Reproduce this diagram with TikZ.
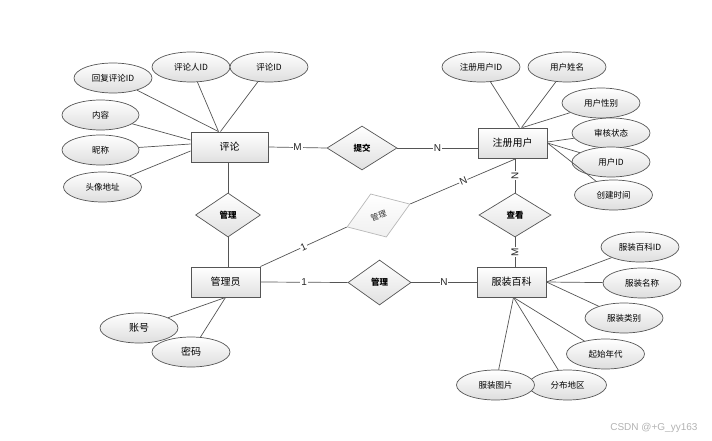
\documentclass[tikz,border=0pt]{standalone}
\usepackage{fontspec}
\setmainfont{Liberation Sans}
\newfontfamily\cjk{Noto Sans CJK SC}
\usetikzlibrary{shapes.geometric,calc}
\definecolor{edgec}{HTML}{555555}
\tikzset{
  entity/.style={draw=edgec, line width=0.9pt, rectangle, top color=white, bottom color=black!12,
     minimum height=30pt, minimum width=69pt, inner sep=0pt, font=\cjk\fontsize{10}{12}\selectfont},
  attr/.style={draw=edgec, line width=0.7pt, ellipse, top color=white, bottom color=black!13,
     minimum height=30pt, minimum width=78pt, inner sep=0pt, font=\cjk\fontsize{8.5}{10}\selectfont},
  rel/.style={draw=edgec, line width=0.7pt, diamond, top color=white, bottom color=black!12,
     minimum height=44pt, minimum width=68pt, inner sep=0pt, font=\cjk\bfseries\fontsize{8.5}{10}\selectfont},
  conn/.style={draw=edgec, line width=0.7pt},
  card/.style={fill=white, inner sep=0.8pt, font=\fontsize{10}{12}\selectfont, text=black!85},
}
\begin{document}
\begin{tikzpicture}[x=1pt,y=-1pt]
\useasboundingbox (0,0) rectangle (712,441);
% entities
\node[entity, minimum width=77pt] (pl) at (229.5,147) {评论};
\node[entity] (zc) at (512.5,143) {注册用户};
\node[entity] (gly) at (225.5,282) {管理员};
\node[entity] (fz) at (511.5,282) {服装百科};
% relationships
\node[rel, minimum width=70pt] (tj) at (362,148) {提交};
\node[rel, minimum width=65pt] (gl1) at (228,215) {管理};
\node[rel, minimum width=63pt, minimum height=45pt] (gl3) at (379.5,282.5) {管理};
\node[rel, minimum width=72pt] (ck) at (515,215) {查看};
\node[rel, draw=black!28, rotate=20, minimum width=67pt, minimum height=46pt, top color=white, bottom color=black!6,
      font=\cjk\fontsize{8}{10}\selectfont, text=black!80] (rd) at (378.5,215.5) {管理};
% attributes of 评论
\node[attr] (a1) at (113,78) {回复评论ID};
\node[attr] (a2) at (191,67) {评论人ID};
\node[attr] (a3) at (269,67) {评论ID};
\node[attr, minimum width=77pt] (a4) at (100.5,115) {内容};
\node[attr, minimum width=77pt] (a5) at (100.5,150) {昵称};
\node[attr] (a6) at (102.5,187) {头像地址};
% attributes of 注册用户
\node[attr] (b1) at (481,67) {注册用户ID};
\node[attr] (b2) at (567,67) {用户姓名};
\node[attr] (b3) at (601,103) {用户性别};
\node[attr] (b4) at (611,133) {审核状态};
\node[attr] (b5) at (611,162) {用户ID};
\node[attr] (b6) at (613.5,195) {创建时间};
% attributes of 服装百科
\node[attr] (c1) at (640,247) {服装百科ID};
\node[attr] (c2) at (642,283) {服装名称};
\node[attr] (c3) at (624,318) {服装类别};
\node[attr] (c4) at (605.5,354) {起始年代};
\node[attr] (c6) at (567.5,385) {分布地区};
\node[attr] (c5) at (495.5,385) {服装图片};
% attributes of 管理员
\node[attr, font=\cjk\fontsize{10}{12}\selectfont] (d1) at (139,328) {账号};
\node[attr, font=\cjk\fontsize{10}{12}\selectfont] (d2) at (191,352) {密码};
% anchor points
\coordinate (pltop) at ($(pl.north)+(-11,0)$);
\coordinate (zctop) at ($(zc.north)+(7,0)$);
\coordinate (fzbot) at ($(fz.south)+(2,0)$);
% attribute connectors
\draw[conn] (a1) -- (pltop);
\draw[conn] (a2) -- (pltop);
\draw[conn] (a3) -- ($(pltop)+(2,0)$);
\draw[conn] (a4) -- ($(pl.west)+(0,-7)$);
\draw[conn] (a5) -- ($(pl.west)+(0,-3)$);
\draw[conn] (a6) -- ($(pl.west)+(0,4)$);
\draw[conn] (b1) -- (zctop);
\draw[conn] (b2) -- ($(zctop)+(2,0)$);
\draw[conn] (b3) -- ($(zctop)+(3,0)$);
\draw[conn] (b4) -- ($(zc.east)+(0,-1)$);
\draw[conn] (b5) -- (zc.east);
\draw[conn] (b6) -- (zc.east);
\draw[conn] (c1) -- (fz.east);
\draw[conn] (c2) -- (fz.east);
\draw[conn] (c3) -- (fz.east);
\draw[conn] (c4) -- (fzbot);
\draw[conn] (c5) -- (fzbot);
\draw[conn] (c6) -- (fzbot);
\draw[conn] (d1) -- (gly.south);
\draw[conn] (d2) -- (gly.south);
% relationship connectors
\draw[conn] (pl.east) -- node[card] {M} (tj.west);
\draw[conn] (tj.east) -- node[card] {N} (tj.east -| zc.west);
\draw[conn] (pl.south -| gl1.north) -- (gl1.north);
\draw[conn] (gl1.south) -- (gl1.south |- gly.north);
\draw[conn] (gly.east) -- node[card] {1} (gl3.west);
\draw[conn] (gl3.east) -- node[card] {N} (gl3.east -| fz.west);
\draw[conn] (gly.north east) -- node[card, sloped] {1} (rd.west);
\draw[conn] (rd.east) -- node[card, sloped] {N} ($(zc.south)+(4,0)$);
\draw[conn] (ck.north |- zc.south) -- node[card, rotate=90] {N} (ck.north);
\draw[conn] (ck.south) -- node[card, rotate=90] {M} (ck.south |- fz.north);
% watermark
\node[font=\fontsize{10}{12}\selectfont, text=black!30, anchor=east] (wm) at (701,428) {CSDN @+G\_yy163};
\end{tikzpicture}
\end{document}
